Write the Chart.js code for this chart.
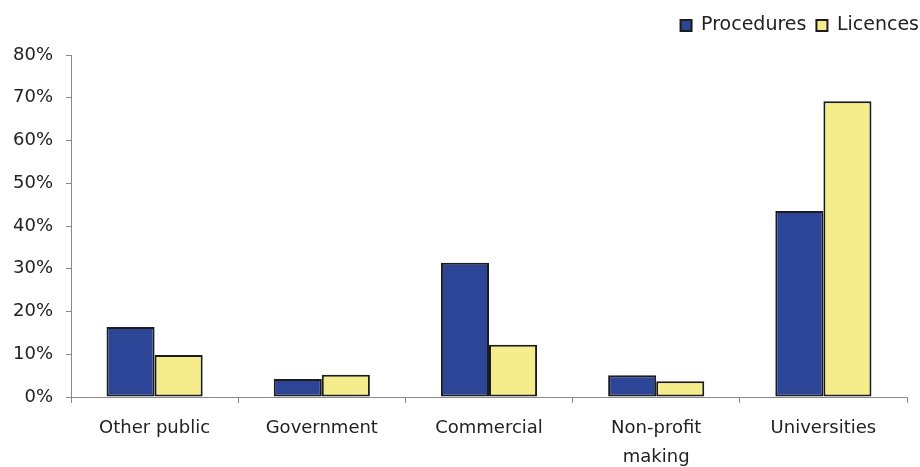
<!DOCTYPE html>
<html>
<head>
<meta charset="utf-8">
<script src="https://cdn.jsdelivr.net/npm/chart.js@4/dist/chart.umd.min.js"></script>
<style>
  html, body { margin: 0; padding: 0; background: #fff; }
  #wrap { width: 920px; height: 467px; }
</style>
</head>
<body>
<div id="wrap"><canvas id="sectorChart"></canvas></div>
<script>
const categories = ["Other public", "Government", "Commercial", ["Non-profit", "making"], "Universities"];
const procedures = [16.4, 4.2, 31.4, 5.1, 43.5];
const licences = [9.8, 5.2, 12.2, 3.7, 69.2];
const yTicks = [0, 10, 20, 30, 40, 50, 60, 70, 80];

Chart.defaults.font.family = "'DejaVu Sans', sans-serif";
Chart.defaults.color = "#222";

// nudge the legend into the top-right corner without moving the plot
const legendShift = {
  id: 'legendShift',
  afterLayout(chart) {
    const lg = chart.legend;
    lg.left += 9; lg.right += 9;
    lg.top -= 10; lg.bottom -= 10;
  }
};

const ctx = document.getElementById("sectorChart").getContext("2d");
new Chart(ctx, {
  type: 'bar',
  data: {
    labels: categories,
    datasets: [
      {
        label: "Procedures",
        data: procedures,
        backgroundColor: "#2c4596",
        borderColor: "#1c1c1c",
        borderWidth: 2,
        borderSkipped: false
      },
      {
        label: "Licences",
        data: licences,
        backgroundColor: "#f5ec8c",
        borderColor: "#1c1c1c",
        borderWidth: 2,
        borderSkipped: false
      }
    ]
  },
  plugins: [legendShift],
  options: {
    responsive: true,
    maintainAspectRatio: false,
    animation: false,
    layout: { padding: { left: 13, right: 0, top: 0, bottom: 0 } },
    datasets: { bar: { categoryPercentage: 0.575, barPercentage: 1 } },
    plugins: {
      legend: {
        position: 'top',
        align: 'end',
        labels: { boxWidth: 11, boxHeight: 11, padding: 10, font: { size: 19 }, color: "#222" }
      },
      tooltip: { enabled: false }
    },
    scales: {
      x: {
        afterFit: axis => { axis.height = 70; axis.paddingRight = 13; },
        grid: { drawOnChartArea: false, color: "#888", tickLength: 6, offset: true },
        border: { color: "#888", width: 1 },
        ticks: { font: { size: 18, lineHeight: 1.6 }, padding: 11, maxRotation: 0, autoSkip: false }
      },
      y: {
        min: 0,
        max: 80,
        afterBuildTicks: axis => { axis.ticks = yTicks.map(v => ({ value: v })); },
        afterFit: axis => { axis.width = 58; axis.paddingTop = 55; },
        grid: { drawOnChartArea: false, color: "#888", tickLength: 5 },
        border: { color: "#888", width: 1 },
        ticks: { font: { size: 18 }, padding: 13, callback: v => v + "%" }
      }
    }
  }
});
</script>
</body>
</html>
